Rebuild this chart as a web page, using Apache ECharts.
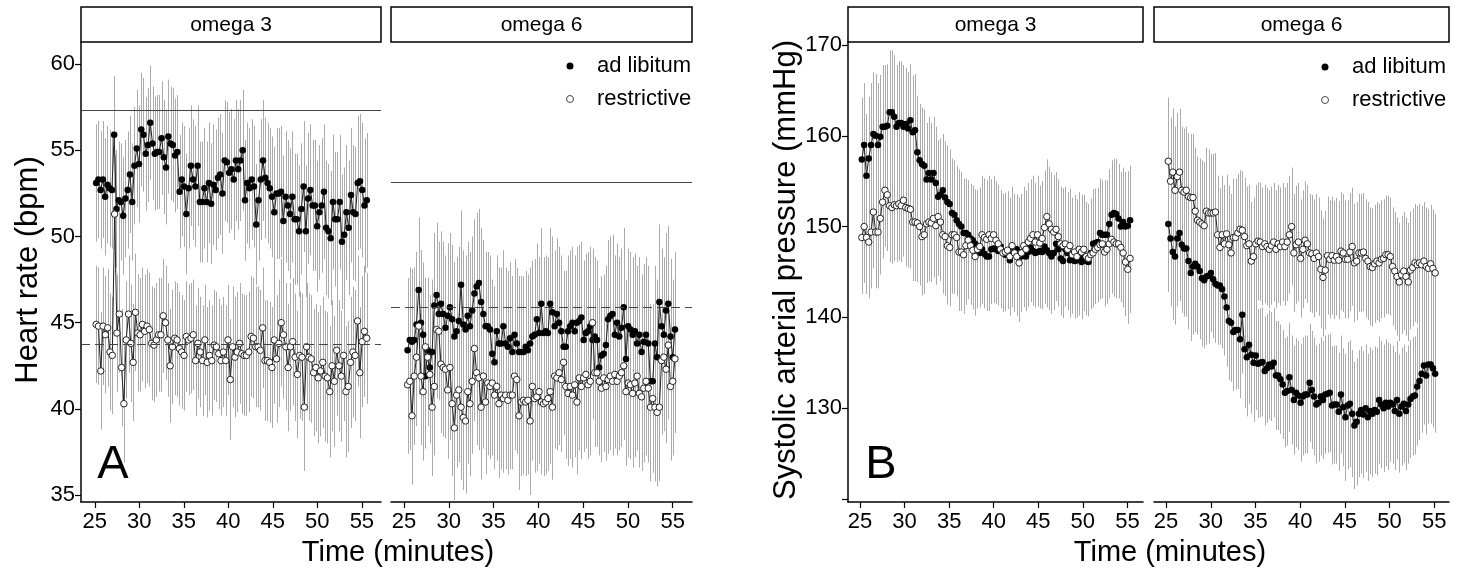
<!DOCTYPE html>
<html>
<head>
<meta charset="utf-8">
<title>Heart rate and systolic arterial pressure</title>
<script src="https://cdn.jsdelivr.net/npm/echarts@6/dist/echarts.min.js"></script>
<style>
  html, body { margin: 0; padding: 0; background: #fff; }
  #chart { width: 1464px; height: 575px; }
</style>
</head>
<body>
<div id="chart"></div>
<script>
// ---- data ----
// first and last sample time of each panel, minutes
const hrSpanO3 = [25.15, 55.55]
const hrSpanO6 = [25.4, 55.25]
const sbpSpanO3 = [25.2, 55.3]
const sbpSpanO6 = [25.25, 55.1]

const xTicks = [25, 30, 35, 40, 45, 50, 55]
const hrTicks = [35, 40, 45, 50, 55, 60]
const sbpTicks = [120, 130, 140, 150, 160, 170]
const sbpLabels = [130, 140, 150, 160, 170]

// heart rate, omega 3
const hrAdO3 = [53.1, 53.3, 52.7, 53.3, 52.3, 53.0, 52.8, 52.7, 55.9, 51.6,
  52.1, 52.0, 51.2, 52.2, 52.7, 53.6, 52.0, 54.1, 55.1, 54.2,
  56.2, 55.9, 54.8, 55.3, 56.6, 55.4, 54.8, 54.9, 54.9, 55.7,
  54.6, 54.0, 55.8, 55.4, 55.3, 54.7, 54.9, 52.6, 53.3, 52.9,
  51.3, 52.8, 54.1, 53.3, 52.9, 54.1, 52.0, 52.0, 52.8, 52.0,
  53.1, 51.9, 53.0, 52.7, 53.4, 53.6, 52.5, 54.4, 54.3, 53.7,
  53.9, 53.3, 54.4, 53.9, 54.4, 55.0, 52.1, 53.1, 52.8, 53.3,
  52.9, 50.7, 52.1, 53.3, 54.4, 53.4, 53.1, 52.8, 52.3, 51.4,
  52.5, 52.5, 52.6, 50.9, 52.3, 51.8, 51.3, 52.3, 51.0, 51.0,
  50.3, 51.6, 52.9, 50.3, 52.2, 52.7, 51.8, 51.8, 50.6, 51.4,
  51.8, 52.6, 50.5, 50.3, 49.9, 52.0, 51.0, 51.0, 52.0, 49.7,
  50.1, 51.4, 50.5, 52.4, 51.4, 51.3, 53.1, 53.2, 52.7, 51.8,
  52.1]
const hrReO3 = [44.9, 44.8, 42.2, 44.8, 44.3, 44.7, 43.3, 43.1, 51.3, 44.4,
  45.5, 42.4, 40.3, 44.0, 45.5, 43.8, 42.7, 45.6, 44.4, 44.3,
  44.9, 44.5, 44.8, 44.6, 43.8, 43.7, 44.0, 44.3, 44.3, 45.4,
  45.0, 44.0, 42.5, 43.6, 44.1, 44.0, 43.5, 43.3, 43.1, 44.2,
  44.0, 44.1, 44.3, 42.8, 43.8, 43.3, 42.8, 44.0, 42.7, 43.1,
  42.8, 43.7, 43.6, 43.2, 42.8, 43.3, 42.8, 44.0, 41.7, 43.6,
  43.0, 43.3, 43.8, 43.2, 43.1, 43.1, 43.3, 44.2, 44.1, 43.6,
  43.6, 43.4, 44.7, 42.8, 42.8, 42.7, 42.4, 44.0, 42.9, 43.8,
  45.0, 44.3, 43.6, 42.4, 43.6, 43.9, 43.0, 42.0, 43.1, 43.0,
  40.1, 43.6, 43.0, 42.9, 42.1, 42.4, 41.8, 42.2, 42.7, 41.9,
  41.8, 41.0, 42.5, 41.6, 43.4, 42.5, 41.9, 43.1, 41.0, 41.3,
  42.7, 43.3, 43.1, 45.1, 42.1, 43.9, 44.5, 44.1]
// half length of the grey bars, one value per 5-minute block from 25 min
const hrSdAdO3 = [3.4, 3.3, 3.5, 3.5, 3.8, 3.9, 3.9]
const hrSdReO3 = [3.4, 3.3, 3.2, 3.5, 3.7, 3.8, 3.8]
const hrRefO3 = [57.3, 43.75] // solid, dashed

// heart rate, omega 6
const hrAdO6 = [43.4, 44.0, 43.9, 44.0, 44.9, 46.9, 45.0, 44.3, 41.9, 43.4,
  42.4, 43.3, 46.0, 46.6, 45.5, 46.1, 45.5, 44.7, 45.4, 45.9,
  45.2, 44.2, 44.5, 45.1, 47.2, 44.9, 44.6, 45.4, 44.8, 45.7,
  46.7, 47.1, 47.3, 46.2, 45.5, 44.8, 44.8, 44.6, 43.2, 42.7,
  44.5, 43.8, 43.8, 44.8, 43.8, 43.6, 44.1, 43.3, 44.3, 43.8,
  43.3, 43.3, 43.3, 43.6, 43.4, 43.8, 44.2, 44.3, 45.2, 44.4,
  46.1, 44.4, 44.5, 44.4, 46.1, 45.6, 44.8, 45.5, 45.0, 44.5,
  43.6, 43.6, 44.5, 44.8, 45.0, 44.5, 45.0, 45.1, 45.3, 44.0,
  44.4, 44.5, 44.8, 44.0, 44.2, 44.0, 42.4, 43.1, 43.2, 43.7,
  45.2, 45.4, 45.5, 44.3, 45.0, 44.2, 44.7, 45.9, 42.9, 44.8,
  44.6, 44.3, 44.5, 43.8, 44.3, 43.3, 43.9, 44.3, 43.8, 41.6,
  41.6, 43.8, 43.0, 46.2, 44.8, 44.3, 45.7, 46.1, 44.2, 43.0,
  44.6]
const hrReO6 = [41.4, 41.6, 39.6, 41.9, 43.0, 44.8, 41.9, 41.0, 43.6, 43.0,
  42.0, 40.1, 41.3, 44.6, 44.5, 42.6, 42.4, 42.3, 41.1, 42.4,
  40.3, 38.9, 40.8, 41.1, 40.1, 39.5, 39.3, 41.0, 40.3, 41.6,
  43.5, 42.1, 41.8, 40.1, 41.9, 40.4, 41.5, 41.3, 41.5, 40.8,
  41.3, 40.3, 40.8, 40.6, 40.8, 40.5, 40.8, 40.8, 41.9, 41.7,
  39.6, 40.4, 40.5, 40.4, 40.5, 39.3, 41.3, 40.6, 40.7, 41.0,
  40.4, 40.3, 40.4, 40.6, 41.0, 40.1, 41.9, 41.8, 42.1, 41.7,
  42.7, 41.3, 40.9, 41.3, 40.8, 41.4, 40.4, 41.8, 41.3, 41.8,
  42.0, 41.4, 41.6, 45.0, 42.1, 42.1, 41.6, 41.2, 41.8, 41.3,
  41.7, 41.9, 41.6, 42.0, 41.6, 41.9, 42.1, 42.5, 41.0, 41.5,
  41.4, 40.9, 41.5, 41.9, 40.9, 40.7, 41.2, 41.6, 41.2, 40.1,
  40.6, 40.1, 39.8, 40.1, 42.8, 43.0, 42.3, 43.7, 41.3, 41.6,
  42.9]
const hrSdAdO6 = [4.2, 4.3, 4.4, 4.4, 4.6, 4.5, 4.5]
const hrSdReO6 = [4.0, 4.2, 4.3, 4.2, 4.3, 4.3, 4.3]
const hrRefO6 = [53.15, 45.9]

// systolic pressure, omega 3
const sbpAdO3 = [157.4, 159.0, 155.6, 157.5, 159.0, 160.2, 160.0, 159.0, 159.9, 161.0,
  161.0, 161.1, 162.6, 162.6, 162.1, 161.0, 161.4, 161.4, 161.0, 161.3,
  160.8, 161.7, 160.4, 160.6, 158.2, 157.3, 156.9, 156.7, 155.2, 155.9,
  155.2, 155.9, 154.8, 153.3, 153.5, 154.0, 153.2, 152.7, 152.5, 151.5,
  151.3, 150.7, 150.3, 150.0, 149.3, 149.3, 149.1, 148.7, 148.5, 148.1,
  147.9, 147.1, 147.5, 147.0, 146.7, 146.7, 147.5, 147.6, 147.5, 147.3,
  147.8, 147.2, 146.9, 147.1, 146.3, 147.1, 147.2, 147.5, 147.2, 146.7,
  147.1, 146.7, 147.2, 147.7, 147.3, 147.1, 147.2, 147.3, 147.2, 147.8,
  147.4, 147.1, 146.7, 147.1, 148.1, 147.5, 146.5, 146.2, 147.5, 147.1,
  146.3, 146.7, 146.2, 146.3, 146.5, 146.1, 146.7, 146.2, 146.1, 147.1,
  148.1, 148.2, 148.3, 149.3, 149.1, 149.1, 149.1, 150.3, 151.3, 151.5,
  151.4, 150.9, 150.0, 150.5, 150.0, 150.1, 150.7]
const sbpReO3 = [148.8, 150.0, 148.8, 148.3, 149.4, 151.6, 149.4, 149.4, 150.9, 152.7,
  154.0, 153.5, 152.3, 152.1, 152.4, 152.3, 152.5, 152.3, 152.9, 152.1,
  152.0, 151.9, 150.5, 150.5, 150.4, 150.0, 148.9, 149.1, 150.3, 150.5,
  150.4, 150.9, 150.1, 151.1, 150.5, 149.1, 148.9, 147.9, 147.7, 149.1,
  149.1, 148.8, 147.2, 147.2, 146.9, 147.9, 148.5, 147.9, 147.4, 146.7,
  147.5, 147.8, 149.1, 148.8, 148.6, 149.1, 148.7, 149.1, 148.5, 148.1,
  147.5, 147.1, 147.2, 147.4, 146.7, 147.9, 147.1, 146.7, 146.0, 147.1,
  147.9, 147.5, 148.3, 148.7, 149.1, 148.3, 149.1, 148.2, 148.7, 149.9,
  151.1, 150.3, 149.7, 149.4, 149.7, 148.9, 148.1, 147.9, 148.1, 147.5,
  147.9, 146.9, 147.2, 146.7, 147.5, 147.2, 147.5, 146.7, 146.5, 146.9,
  147.1, 147.5, 147.7, 148.0, 148.1, 147.2, 147.5, 148.1, 148.6, 148.3,
  148.1, 148.1, 147.7, 147.1, 146.1, 145.3, 146.5]
const sbpSdAdO3 = [6.8, 6.2, 6.0, 6.0, 6.3, 6.0, 6.0]
const sbpSdReO3 = [6.2, 6.5, 6.5, 6.5, 6.3, 6.0, 6.0]

// systolic pressure, omega 6
const sbpAdO6 = [150.3, 148.7, 147.2, 146.7, 148.7, 149.3, 148.0, 147.6, 147.6, 146.2,
  144.9, 145.6, 145.9, 145.6, 145.1, 144.3, 144.1, 144.5, 144.6, 144.9,
  144.2, 143.7, 143.5, 143.5, 143.1, 142.3, 141.1, 139.6, 139.4, 138.4,
  138.6, 138.6, 137.6, 140.3, 136.5, 135.6, 137.0, 135.9, 135.0, 135.8,
  134.9, 135.0, 135.1, 134.1, 134.4, 134.8, 134.6, 135.0, 133.6, 133.6,
  133.2, 132.6, 131.7, 131.9, 133.4, 132.0, 130.9, 131.7, 131.4, 130.6,
  131.3, 131.5, 131.5, 132.8, 132.0, 131.3, 130.4, 130.6, 131.3, 130.9,
  131.5, 131.6, 131.7, 130.3, 130.4, 130.4, 129.6, 131.5, 130.1, 129.0,
  130.3, 130.5, 129.4, 128.1, 128.5, 129.4, 129.8, 129.3, 130.0, 129.0,
  129.7, 129.4, 129.8, 129.6, 130.9, 130.4, 130.0, 130.6, 130.2, 130.6,
  130.4, 129.7, 130.9, 129.4, 130.2, 130.5, 129.7, 130.4, 131.0, 131.3,
  131.4, 132.4, 133.0, 133.8, 134.7, 133.6, 134.8, 134.8, 134.4, 133.8]
const sbpReO6 = [157.2, 155.0, 156.0, 154.0, 155.5, 156.0, 154.0, 153.8, 154.0, 153.3,
  153.2, 153.2, 151.7, 150.7, 150.5, 150.3, 150.1, 151.7, 151.5, 151.5,
  151.5, 151.6, 149.1, 147.7, 149.1, 148.1, 149.2, 148.0, 147.1, 148.8,
  148.8, 149.3, 149.7, 149.6, 148.9, 147.9, 148.1, 146.2, 146.7, 148.1,
  148.4, 148.3, 147.8, 148.1, 147.8, 147.5, 147.9, 148.3, 147.5, 148.1,
  147.8, 148.3, 147.8, 148.3, 149.1, 150.0, 147.1, 148.0, 148.3, 146.5,
  147.5, 148.5, 148.1, 147.1, 147.0, 146.5, 147.1, 146.7, 145.3, 144.4,
  145.2, 146.8, 146.4, 146.8, 146.3, 146.7, 146.3, 147.3, 147.1, 146.4,
  146.4, 147.2, 147.8, 146.0, 146.2, 147.1, 147.1, 147.2, 146.5, 146.2,
  145.6, 145.5, 145.9, 146.2, 146.0, 146.4, 146.5, 146.9, 146.9, 146.7,
  145.6, 145.1, 144.5, 143.9, 144.7, 145.1, 144.5, 143.9, 145.2, 145.5,
  146.0, 145.8, 146.0, 145.8, 146.2, 145.6, 145.4, 145.9, 145.4, 144.9]
const sbpSdAdO6 = [7.5, 6.5, 6.0, 6.5, 7.0, 6.5, 6.5]
const sbpSdReO6 = [7.0, 6.5, 6.5, 6.5, 6.5, 6.5, 6.5]

// ---- helpers ----
const FONT = "'Liberation Sans', Arial, Helvetica, sans-serif"

function withTime (values, span) {
  const step = (span[1] - span[0]) / (values.length - 1)
  return values.map((v, i) => [span[0] + i * step, v])
}

function withBars (values, sd, span) {
  return withTime(values, span).map(([t, v]) => {
    const s = sd[Math.min(sd.length - 1, Math.floor((t - 25) / 5))]
    return [t, v - s, v + s]
  })
}

const panels = [
  { grid: { left: 81, top: 42, width: 300, height: 460 }, x: [23.45, 57.15], y: [34.6, 61.28],
    yTicks: hrTicks, yLabels: hrTicks, showY: true, span: hrSpanO3,
    ad: hrAdO3, re: hrReO3, sdAd: hrSdAdO3, sdRe: hrSdReO3, refs: hrRefO3, strip: 'omega 3' },
  { grid: { left: 391, top: 42, width: 301, height: 460 }, x: [23.55, 57.15], y: [34.6, 61.28],
    yTicks: hrTicks, yLabels: hrTicks, showY: false, span: hrSpanO6,
    ad: hrAdO6, re: hrReO6, sdAd: hrSdAdO6, sdRe: hrSdReO6, refs: hrRefO6, strip: 'omega 6' },
  { grid: { left: 848, top: 42, width: 295, height: 460 }, x: [23.65, 56.75], y: [119.67, 170.33],
    yTicks: sbpTicks, yLabels: sbpLabels, showY: true, span: sbpSpanO3,
    ad: sbpAdO3, re: sbpReO3, sdAd: sbpSdAdO3, sdRe: sbpSdReO3, refs: null, strip: 'omega 3' },
  { grid: { left: 1154, top: 42, width: 295, height: 460 }, x: [23.65, 56.65], y: [119.67, 170.33],
    yTicks: sbpTicks, yLabels: sbpLabels, showY: false, span: sbpSpanO6,
    ad: sbpAdO6, re: sbpReO6, sdAd: sbpSdAdO6, sdRe: sbpSdReO6, refs: null, strip: 'omega 6' }
]

function errorBarSeries (idx, data) {
  return {
    type: 'custom',
    xAxisIndex: idx,
    yAxisIndex: idx,
    silent: true,
    z: 1,
    encode: { x: 0, y: [1, 2] },
    data: data,
    renderItem (params, api) {
      const lo = api.coord([api.value(0), api.value(1)])
      const hi = api.coord([api.value(0), api.value(2)])
      const x = Math.round(lo[0]) + 0.5
      return {
        type: 'line',
        shape: { x1: x, y1: lo[1], x2: x, y2: hi[1] },
        style: { stroke: '#ababab', lineWidth: 1 }
      }
    }
  }
}

const grids = []
const xAxes = []
const yAxes = []
const series = []
const graphics = []

panels.forEach((p, idx) => {
  grids.push(p.grid)
  xAxes.push({
    type: 'value',
    gridIndex: idx,
    min: p.x[0],
    max: p.x[1],
    axisLine: { show: true, lineStyle: { color: '#000', width: 1.5 } },
    axisTick: { show: true, length: 6, customValues: xTicks, lineStyle: { color: '#000', width: 1.2 } },
    axisLabel: { customValues: xTicks, fontSize: 22, color: '#000', fontFamily: FONT, margin: 9 },
    splitLine: { show: false }
  })
  yAxes.push({
    type: 'value',
    gridIndex: idx,
    min: p.y[0],
    max: p.y[1],
    show: p.showY,
    axisLine: { show: true, lineStyle: { color: '#000', width: 1.5 } },
    axisTick: { show: true, length: 6, customValues: p.yTicks, lineStyle: { color: '#000', width: 1.2 } },
    axisLabel: { customValues: p.yLabels, fontSize: 22, color: '#000', fontFamily: FONT, margin: 6 },
    splitLine: { show: false }
  })

  series.push(errorBarSeries(idx, withBars(p.ad, p.sdAd, p.span)))
  series.push(errorBarSeries(idx, withBars(p.re, p.sdRe, p.span)))

  const adSeries = {
    name: 'ad libitum',
    type: 'line',
    xAxisIndex: idx,
    yAxisIndex: idx,
    z: 3,
    data: withTime(p.ad, p.span),
    symbol: 'circle',
    symbolSize: 6.5,
    showAllSymbol: true,
    color: '#000',
    itemStyle: { color: '#000' },
    lineStyle: { color: '#222', width: 1 },
    emphasis: { disabled: true }
  }
  if (p.refs) {
    adSeries.markLine = {
      silent: true,
      symbol: 'none',
      label: { show: false },
      lineStyle: { color: '#444', width: 1 },
      data: [
        { yAxis: p.refs[0], lineStyle: { type: 'solid' } },
        { yAxis: p.refs[1], lineStyle: { type: [9, 5] } }
      ]
    }
  }
  series.push(adSeries)
  series.push({
    name: 'restrictive',
    type: 'line',
    xAxisIndex: idx,
    yAxisIndex: idx,
    z: 4,
    data: withTime(p.re, p.span),
    symbol: 'circle',
    symbolSize: 6.5,
    showAllSymbol: true,
    color: '#fff',
    itemStyle: { color: '#fff', borderColor: '#222', borderWidth: 1 },
    lineStyle: { color: '#222', width: 1 },
    emphasis: { disabled: true }
  })

  // strip label above each panel
  graphics.push({
    type: 'rect',
    shape: { x: p.grid.left, y: 7, width: p.grid.width, height: 35 },
    style: { fill: '#fff', stroke: '#000', lineWidth: 1.5 }
  })
  graphics.push({
    type: 'text',
    x: p.grid.left + p.grid.width / 2,
    y: 25,
    style: { text: p.strip, fill: '#000', font: '21px ' + FONT, textAlign: 'center', textVerticalAlign: 'middle' }
  })
})

function label (text, x, y, size, rotate) {
  return {
    type: 'text',
    x: x,
    y: y,
    rotation: rotate ? Math.PI / 2 : 0,
    style: { text: text, fill: '#000', font: size + 'px ' + FONT, textAlign: 'center', textVerticalAlign: 'middle' }
  }
}

graphics.push(label('Heart rate (bpm)', 28, 270, 31, true))
graphics.push(label('Systolic arterial pressure (mmHg)', 786, 270, 31, true))
graphics.push(label('Time (minutes)', 398, 553, 29, false))
graphics.push(label('Time (minutes)', 1170, 553, 29, false))
graphics.push(label('A', 113, 465, 47, false))
graphics.push(label('B', 881, 465, 47, false))

function legendFor (left, top) {
  return {
    left: left,
    top: top,
    orient: 'vertical',
    itemWidth: 44,
    itemHeight: 7,
    itemGap: 11,
    selectedMode: false,
    textStyle: { fontSize: 22, color: '#000', fontFamily: FONT },
    data: [
      { name: 'ad libitum', icon: 'circle', itemStyle: { color: '#000', borderWidth: 0 } },
      { name: 'restrictive', icon: 'circle', itemStyle: { color: '#fff', borderColor: '#444', borderWidth: 1 } }
    ]
  }
}

const chart = echarts.init(document.getElementById('chart'), null, { renderer: 'canvas' })
chart.setOption({
  animation: false,
  backgroundColor: '#fff',
  grid: grids,
  xAxis: xAxes,
  yAxis: yAxes,
  legend: [legendFor(561, 50), legendFor(1316, 51)],
  series: series,
  graphic: graphics
})
</script>
</body>
</html>
